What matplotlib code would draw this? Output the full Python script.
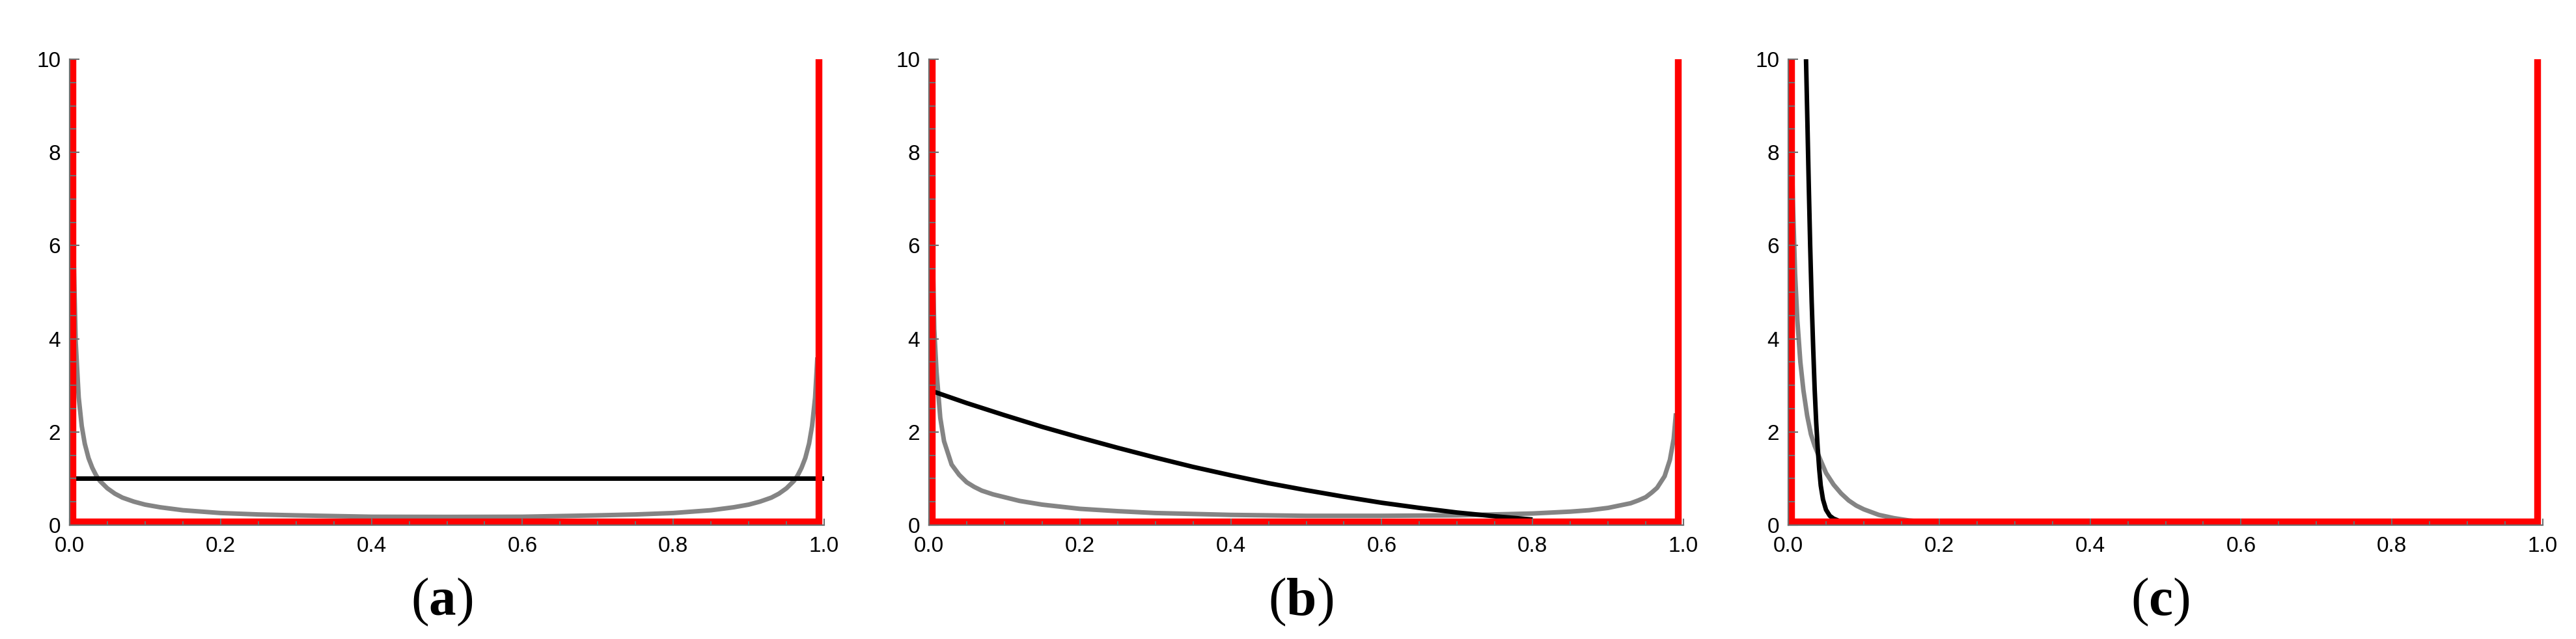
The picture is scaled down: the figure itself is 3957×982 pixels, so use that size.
import matplotlib
matplotlib.use("Agg")
import matplotlib.pyplot as plt
from matplotlib.ticker import MultipleLocator

plt.rcParams['font.family'] = ['Liberation Sans', 'DejaVu Sans']
plt.rcParams['mathtext.fontset'] = 'custom'
plt.rcParams['mathtext.rm'] = 'Liberation Serif'
plt.rcParams['mathtext.bf'] = 'Liberation Serif:bold'

# ---- data ----
# red boundary path (same in every panel)
red_x = [0.004, 0.004, 0.993, 0.993]
red_y = [10.0, 0.07, 0.07, 10.0]

# panel (a)
a_black_x = [0.0, 1.0]
a_black_y = [1.0, 1.0]
a_gray_x = [0.003, 0.005, 0.008, 0.012, 0.016, 0.02, 0.025, 0.03, 0.035, 0.04,
            0.05, 0.06, 0.07, 0.085, 0.1, 0.12, 0.15, 0.2, 0.25, 0.3, 0.4, 0.5,
            0.6, 0.7, 0.75, 0.8, 0.85, 0.88, 0.9, 0.915, 0.93, 0.94, 0.95, 0.96,
            0.965, 0.97, 0.975, 0.98, 0.984, 0.988, 0.991]
a_gray_y = [9.5, 6.0, 3.94, 2.74, 2.13, 1.75, 1.44, 1.23, 1.07, 0.95,
            0.79, 0.675, 0.59, 0.505, 0.44, 0.383, 0.32, 0.26, 0.229, 0.21, 0.18, 0.177,
            0.18, 0.21, 0.229, 0.26, 0.32, 0.383, 0.44, 0.505, 0.59, 0.675, 0.79, 0.95,
            1.07, 1.23, 1.44, 1.75, 2.13, 2.74, 3.6]

# panel (b)
b_black_x = [0.0, 0.05, 0.1, 0.15, 0.2, 0.25, 0.3, 0.35, 0.4, 0.45, 0.5, 0.55,
             0.6, 0.65, 0.7, 0.75, 0.8]
b_black_y = [2.9, 2.62, 2.36, 2.11, 1.88, 1.66, 1.45, 1.25, 1.07, 0.9, 0.75, 0.61,
             0.48, 0.37, 0.27, 0.19, 0.12]
b_gray_x = [0.002, 0.004, 0.007, 0.01, 0.015, 0.02, 0.03, 0.04, 0.05, 0.06, 0.07,
            0.085, 0.1, 0.12, 0.15, 0.2, 0.25, 0.3, 0.4, 0.5, 0.6, 0.7, 0.75, 0.8,
            0.85, 0.875, 0.9, 0.93, 0.94, 0.95, 0.958, 0.965, 0.975, 0.982, 0.987,
            0.99]
b_gray_y = [10.5, 6.6, 4.2, 3.3, 2.3, 1.8, 1.3, 1.08, 0.92, 0.82, 0.74,
            0.66, 0.6, 0.52, 0.44, 0.35, 0.3, 0.26, 0.22, 0.20, 0.20, 0.21, 0.23, 0.25,
            0.29, 0.32, 0.37, 0.47, 0.53, 0.6, 0.7, 0.8, 1.05, 1.4, 1.85,
            2.4]

# panel (c)
c_black_x = [0.0235, 0.025, 0.027, 0.029, 0.031, 0.033, 0.035, 0.037, 0.039,
             0.041, 0.043, 0.046, 0.05, 0.055, 0.06, 0.066]
c_black_y = [10.0, 8.9, 7.4, 6.0, 4.8, 3.8, 2.9, 2.2, 1.65, 1.2, 0.85, 0.55,
             0.33, 0.2, 0.14, 0.1]
c_gray_x = [0.003, 0.006, 0.009, 0.012, 0.016, 0.02, 0.025, 0.03, 0.035, 0.04,
            0.05, 0.06, 0.07, 0.08, 0.09, 0.1, 0.12, 0.14, 0.16, 0.18, 0.2, 0.25]
c_gray_y = [9.5, 7.0, 5.4, 4.4, 3.5, 2.9, 2.35, 1.95, 1.7, 1.5, 1.12, 0.87, 0.68,
            0.53, 0.42, 0.34, 0.22, 0.15, 0.1, 0.07, 0.05, 0.04]

panels = [
    ("a", a_gray_x, a_gray_y, a_black_x, a_black_y),
    ("b", b_gray_x, b_gray_y, b_black_x, b_black_y),
    ("c", c_gray_x, c_gray_y, c_black_x, c_black_y),
]

W, H = 3957, 982
fig = plt.figure(figsize=(W / 100, H / 100), dpi=100)

lefts = [107, 1427, 2747]
ax_w = 1159
ax_top, ax_bot = 91, 807

for left, (tag, gx, gy, bx, by) in zip(lefts, panels):
    ax = fig.add_axes([left / W, (H - ax_bot) / H, ax_w / W, (ax_bot - ax_top) / H])
    ax.plot(gx, gy, color='#848484', lw=5.0, zorder=2, solid_capstyle='butt',
            solid_joinstyle='round')
    ax.plot(bx, by, color='black', lw=5.0, zorder=2.1, solid_capstyle='butt',
            solid_joinstyle='round')
    ax.plot(red_x, red_y, color='#ff0000', lw=7.5, zorder=2.3, clip_on=False,
            solid_capstyle='butt', solid_joinstyle='miter')

    ax.set_xlim(0, 1)
    ax.set_ylim(0, 10)
    ax.set_axisbelow(False)
    for s in ['top', 'right']:
        ax.spines[s].set_visible(False)
    for s in ['left', 'bottom']:
        ax.spines[s].set_color('#6e6e6e')
        ax.spines[s].set_linewidth(1.6)
        ax.spines[s].set_zorder(3)

    ax.xaxis.set_major_locator(MultipleLocator(0.2))
    ax.xaxis.set_minor_locator(MultipleLocator(0.05))
    ax.yaxis.set_major_locator(MultipleLocator(2))
    ax.yaxis.set_minor_locator(MultipleLocator(0.5))
    ax.set_xticklabels([f"{v:.1f}" for v in ax.get_xticks()])
    ax.set_yticklabels([f"{int(round(v))}" for v in ax.get_yticks()])

    ax.tick_params(axis='both', which='both', direction='in', color='#6e6e6e',
                   width=1.5, labelsize=24, labelcolor='black')
    ax.tick_params(axis='x', which='major', length=7, pad=12)
    ax.tick_params(axis='x', which='minor', length=4.5)
    ax.tick_params(axis='y', which='major', length=11, pad=10)
    ax.tick_params(axis='y', which='minor', length=7)

    cx = (left + ax_w / 2 - 8) / W
    fig.text(cx, (H - 925) / H, r'$\mathrm{(}\mathbf{' + tag + r'}\mathrm{)}$',
             ha='center', va='center', fontsize=60)

fig.savefig("out.png", dpi=100, facecolor='white')
